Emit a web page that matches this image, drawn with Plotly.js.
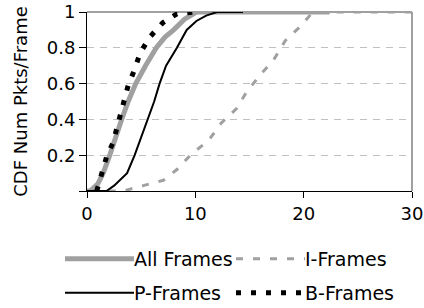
<!DOCTYPE html>
<html><head><meta charset="utf-8">
<script src="https://cdn.plot.ly/plotly-3.0.1.min.js"></script>
<style>html,body{margin:0;padding:0;background:#fff;}#chart{width:424px;height:308px;}</style>
</head><body><div id="chart"></div>
<script>
// Data
const allX = [0, 0.3, 1, 1.5, 2.1, 2.6, 3.2, 3.8, 4.5, 5.4, 6.4, 7.2, 8.0, 9.0, 10.1, 12, 22.4];
const allY = [0, 0, 0.04, 0.1, 0.2, 0.3, 0.4, 0.5, 0.6, 0.7, 0.8, 0.86, 0.9, 0.96, 1, 1, 1];
const iX = [2, 3.35, 5.2, 7.05, 8.3, 9.7, 11.2, 12.4, 13.8, 14.7, 16, 17.2, 18.3, 19.7, 20.7, 22, 30];
const iY = [0, 0, 0.03, 0.06, 0.12, 0.21, 0.28, 0.38, 0.46, 0.55, 0.65, 0.73, 0.84, 0.92, 0.99, 1, 1];
const pX = [0, 1.8, 2.5, 3.2, 3.7, 4.4, 5.0, 5.6, 6.2, 6.7, 7.3, 8.3, 9.2, 10.1, 11, 12, 14.4];
const pY = [0, 0, 0.03, 0.07, 0.1, 0.2, 0.3, 0.4, 0.5, 0.6, 0.7, 0.8, 0.9, 0.95, 0.98, 1, 1];
const bX = [0.9, 1.36, 1.8, 2.4, 2.9, 3.35, 3.8, 4.4, 4.9, 5.8, 7.0, 8.3, 10];
const bY = [0, 0.09, 0.19, 0.27, 0.38, 0.48, 0.59, 0.68, 0.77, 0.86, 0.94, 0.99, 1];
const seriesNames = ['All Frames', 'I-Frames', 'P-Frames', 'B-Frames'];
const xTicks = [0, 10, 20, 30];
const yTicks = [0, 0.2, 0.4, 0.6, 0.8, 1];
const yTickText = ['', '0.2', '0.4', '0.6', '0.8', '1'];

const GRAY = '#a0a0a0';
const FONT = {family: 'DejaVu Sans, Verdana, sans-serif', size: 18, color: '#000'};
const LEGFONT = {family: 'DejaVu Sans, Verdana, sans-serif', size: 19, color: '#000'};

const traces = [
  {x: allX, y: allY, name: seriesNames[0], mode: 'lines', line: {color: GRAY, width: 5}, legend: 'legend'},
  {x: iX, y: iY, name: seriesNames[1], mode: 'lines', line: {color: GRAY, width: 3, dash: '7px,10px'}, legend: 'legend'},
  {x: pX, y: pY, name: seriesNames[2], mode: 'lines', line: {color: '#000', width: 2}, legend: 'legend2'},
  {x: bX, y: bY, name: seriesNames[3], mode: 'lines', line: {color: '#000', width: 5, dash: '5px,10px'}, legend: 'legend2'}
];

const legendCommon = {orientation: 'h', xanchor: 'left', yanchor: 'middle',
  entrywidth: 92, entrywidthmode: 'pixels',
  font: LEGFONT, bgcolor: 'rgba(0,0,0,0)', borderwidth: 0, itemwidth: 64};

const layout = {
  width: 424, height: 308,
  margin: {l: 87, r: 12, t: 12, b: 117, autoexpand: false},
  paper_bgcolor: '#fff', plot_bgcolor: '#fff',
  font: FONT,
  showlegend: true,
  legend: Object.assign({}, legendCommon, {x: (60 - 87) / 325, y: (191 - 259) / 179}),
  legend2: Object.assign({}, legendCommon, {x: (60 - 87) / 325, y: (191 - 293) / 179}),
  xaxis: {range: [0, 30], tickvals: xTicks, ticks: 'outside', ticklen: 6, tickcolor: '#000',
    showline: true, linecolor: '#000', linewidth: 1, showgrid: false, zeroline: false,
    tickfont: FONT, fixedrange: true},
  yaxis: {range: [0, 1], tickvals: yTicks, ticktext: yTickText, ticks: 'outside', ticklen: 7, tickcolor: '#000',
    showline: true, linecolor: '#000', linewidth: 1, showgrid: true, gridcolor: '#c0c0c0', griddash: '7px,6px',
    zeroline: false, tickfont: FONT, fixedrange: true,
    title: {text: 'CDF Num Pkts/Frame', font: FONT, standoff: 14}},
  shapes: [
    {type: 'line', xref: 'paper', yref: 'paper', x0: 0, x1: 1, y0: 1, y1: 1, line: {color: '#a0a0a0', width: 2}, layer: 'below'},
    {type: 'line', xref: 'paper', yref: 'paper', x0: 1, x1: 1, y0: 0, y1: 1, line: {color: '#a0a0a0', width: 2}, layer: 'below'}
  ]
};

Plotly.newPlot('chart', traces, layout, {displayModeBar: false, staticPlot: true}).then(function (gd) {
  // lengthen legend sample lines so they reach the label, as in the reference
  gd.querySelectorAll('.legendlines path').forEach(function (p) { p.setAttribute('d', 'M5,0h69'); });
});
</script></body></html>
